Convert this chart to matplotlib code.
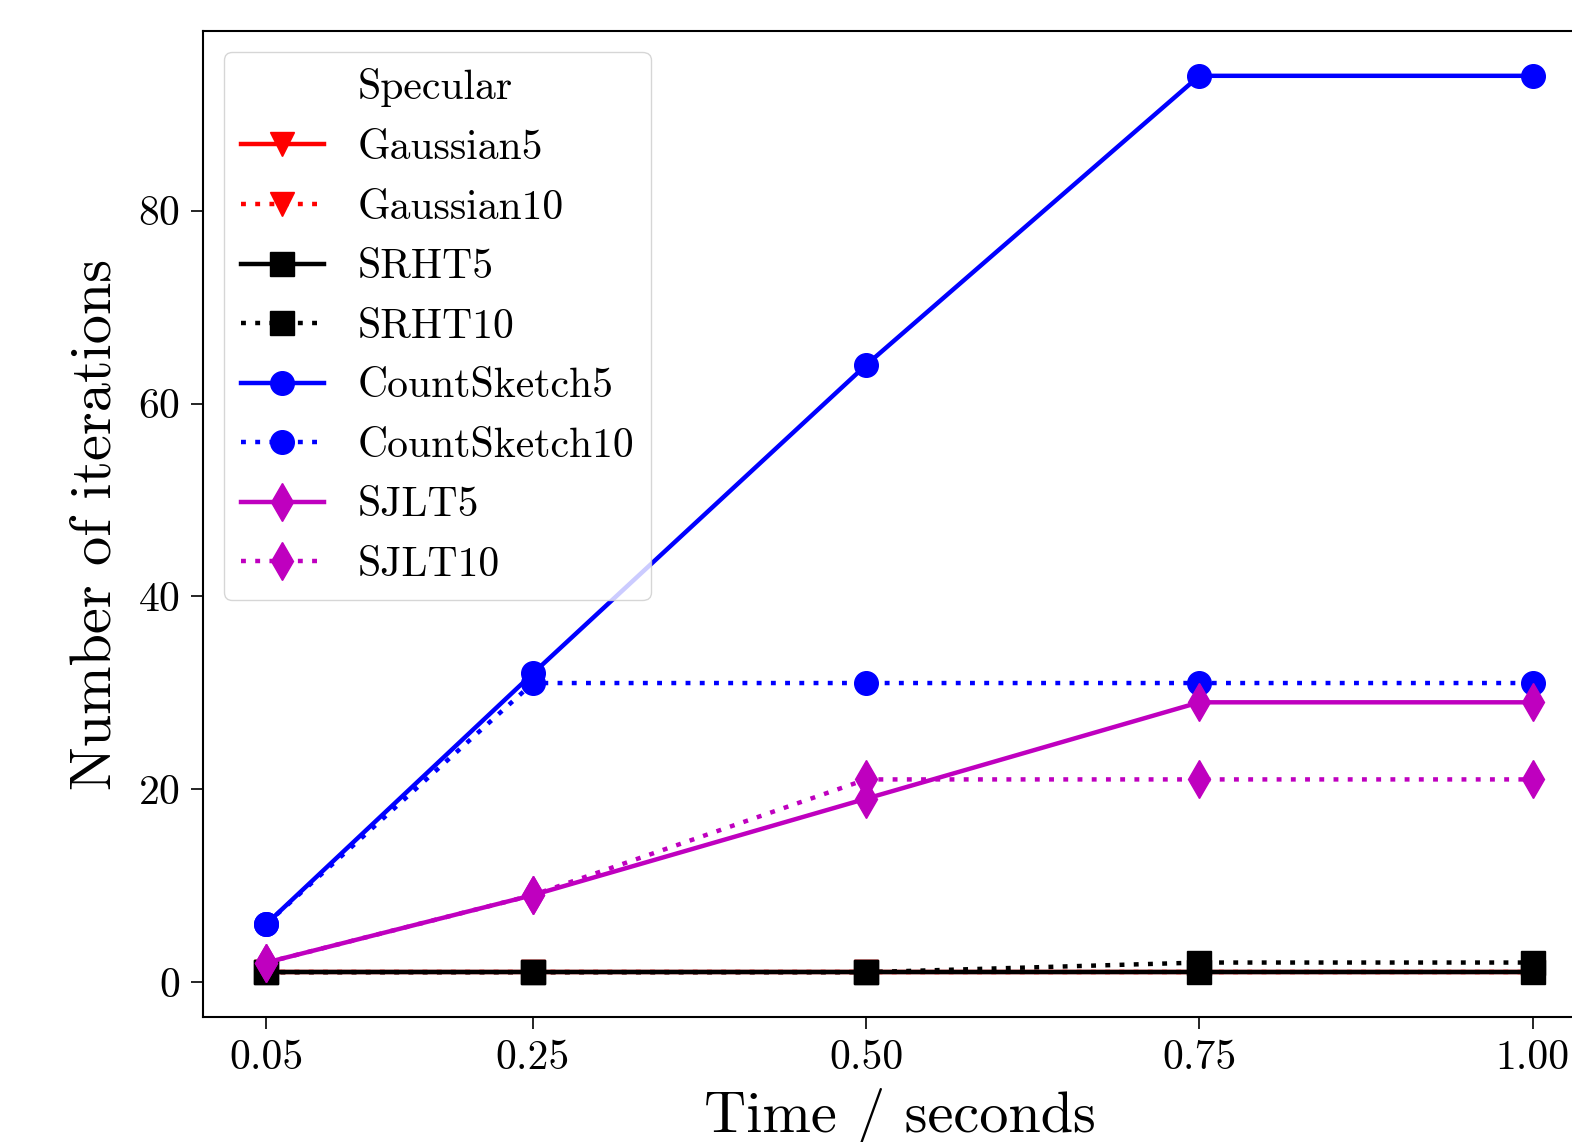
import matplotlib
matplotlib.use("Agg")
from matplotlib import pyplot as plt

plt.rcParams['font.family'] = 'cmr10'
plt.rcParams['mathtext.fontset'] = 'cm'
plt.rcParams['axes.formatter.use_mathtext'] = True

times = [0.05, 0.25, 0.5, 0.75, 1.0]
tick_labels = ["0.05", "0.25", "0.50", "0.75", "1.00"]

gaussian5 = [1, 1, 1, 1, 1]
gaussian10 = [1, 1, 1, 1, 1]
srht5 = [1, 1, 1, 1, 1]
srht10 = [1, 1, 1, 2, 2]
countsketch5 = [6, 32, 64, 94, 94]
countsketch10 = [6, 31, 31, 31, 31]
sjlt5 = [2, 9, 19, 29, 29]
sjlt10 = [2, 9, 21, 21, 21]

fig = plt.figure(figsize=(15.72, 11.42), dpi=100)
ax = fig.add_axes([203 / 1572, 1 - 1017 / 1142, 1393 / 1572, 986 / 1142])

lw = 3.2
ms = 17
dot = (0, (1.1, 2.1))
ax.plot([], [], ' ', label="Specular")
ax.plot(times, gaussian5, '-', color='r', marker='v', lw=lw, ms=ms, label="Gaussian5")
ax.plot(times, gaussian10, linestyle=dot, color='r', marker='v', lw=lw, ms=ms, label="Gaussian10")
ax.plot(times, srht5, '-', color='k', marker='s', lw=lw, ms=ms, label="SRHT5")
ax.plot(times, srht10, linestyle=dot, color='k', marker='s', lw=lw, ms=ms, label="SRHT10")
ax.plot(times, countsketch5, '-', color='b', marker='o', lw=lw, ms=ms, label="CountSketch5")
ax.plot(times, countsketch10, linestyle=dot, color='b', marker='o', lw=lw, ms=ms, label="CountSketch10")
ax.plot(times, sjlt5, '-', color='m', marker='d', lw=lw, ms=ms + 2, label="SJLT5")
ax.plot(times, sjlt10, linestyle=dot, color='m', marker='d', lw=lw, ms=ms + 2, label="SJLT10")

ax.set_xticks(times)
ax.set_xticklabels(tick_labels)
ax.set_yticks([0, 20, 40, 60, 80])
ax.tick_params(labelsize=30, length=8.5, width=1.2, pad=8)
for s in ax.spines.values():
    s.set_linewidth(1.5)

ax.set_xlabel("Time / seconds", fontsize=42, labelpad=8)
ax.set_ylabel("Number of iterations", fontsize=42, labelpad=12)

ax.legend(loc='upper left', fontsize=30, labelspacing=0.53)

plt.savefig("out.png", dpi=100)
